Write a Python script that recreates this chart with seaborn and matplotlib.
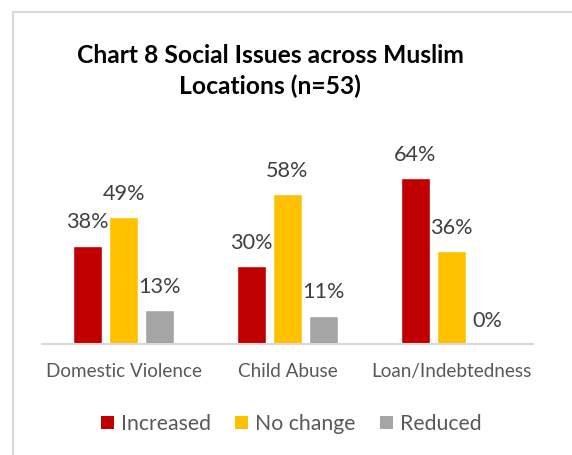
import matplotlib
matplotlib.use("Agg")
import matplotlib.pyplot as plt
from matplotlib.patches import Rectangle, Patch
import seaborn as sns
import pandas as pd

# Chart data
categories = ["Domestic Violence", "Child Abuse", "Loan/Indebtedness"]
series_names = ["Increased", "No change", "Reduced"]
increased = [38, 30, 64]
no_change = [49, 58, 36]
reduced = [13, 11, 0]
colors = ["#C00000", "#FFC000", "#A5A5A5"]
title = "Chart 8 Social Issues across Muslim\nLocations (n=53)"

rows = []
for name, vals in zip(series_names, [increased, no_change, reduced]):
    for cat, v in zip(categories, vals):
        rows.append({"Issue": cat, "Status": name, "Percent": v})
df = pd.DataFrame(rows)

sns.set_theme(style="white")
plt.rcParams["font.family"] = ["Lato", "DejaVu Sans"]

W, H = 572, 455
fig = plt.figure(figsize=(W / 100, H / 100), dpi=100)
ax = fig.add_axes([42 / W, 1 - 344 / H, (533 - 42) / W, (344 - 162.7) / H])

sns.barplot(data=df, x="Issue", y="Percent", hue="Status",
            order=categories, hue_order=series_names, palette=colors,
            width=0.66, gap=0.2, saturation=1, ax=ax, legend=False,
            errorbar=None)

for cont in ax.containers:
    ax.bar_label(cont, labels=[f"{int(v)}%" for v in cont.datavalues],
                 padding=9.5, fontsize=15.6, color="#404040", clip_on=False)

ax.set_ylim(0, 70)
ax.set_xlim(-0.5, 2.5)
ax.set_xlabel("")
ax.set_ylabel("")
ax.set_yticks([])
for s in ["top", "left", "right"]:
    ax.spines[s].set_visible(False)
ax.spines["bottom"].set_color("#D9D9D9")
ax.spines["bottom"].set_linewidth(1.5)
ax.tick_params(axis="x", length=0, pad=14, labelsize=13.6, labelcolor="#595959")

fig.text(270 / W, 1 - 71 / H, title, ha="center", va="center",
         fontsize=17.7, fontweight="bold", color="black", linespacing=1.35)

handles = [Patch(facecolor=c, edgecolor="none", label=n)
           for c, n in zip(colors, series_names)]
fig.legend(handles=handles, loc="center", bbox_to_anchor=(291 / W, 1 - 424 / H),
           ncol=3, frameon=False, fontsize=15.3, labelcolor="#595959",
           handlelength=0.62, handleheight=0.62, handletextpad=0.32,
           columnspacing=1.15)

# Chart area border
fig.patches.append(Rectangle((12.5 / W, -0.1), 2, (H - 11.5) / H + 0.1,
                             transform=fig.transFigure, fill=False,
                             edgecolor="#D9D9D9", linewidth=1.5))

fig.savefig("out.png", dpi=100, facecolor="white")
